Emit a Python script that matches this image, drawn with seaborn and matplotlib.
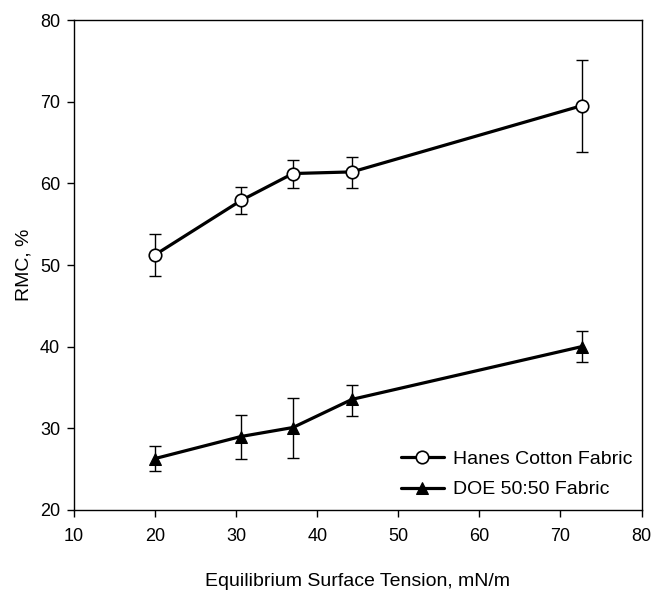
import matplotlib
matplotlib.use("Agg")
import matplotlib.pyplot as plt
import seaborn as sns
import pandas as pd
import numpy as np

tension = [20.0, 30.6, 37.0, 44.3, 72.6]
hanes = [51.25, 57.9, 61.2, 61.4, 69.5]
hanes_lo = [48.7, 56.3, 59.4, 59.4, 63.8]
hanes_hi = [53.8, 59.5, 62.9, 63.2, 75.1]
doe = [26.3, 29.0, 30.1, 33.55, 40.0]
doe_lo = [24.8, 26.3, 26.4, 31.5, 38.1]
doe_hi = [27.8, 31.6, 33.7, 35.3, 41.9]
series_names = ["Hanes Cotton Fabric", "DOE 50:50 Fabric"]
xticks = [10, 20, 30, 40, 50, 60, 70, 80]
yticks = [20, 30, 40, 50, 60, 70, 80]

sns.set_style("ticks")
plt.rcParams["font.family"] = ["Liberation Sans", "DejaVu Sans"]
plt.rcParams["text.color"] = "black"
plt.rcParams["axes.labelcolor"] = "black"

df = pd.DataFrame({
    "x": tension + tension,
    "y": hanes + doe,
    "series": [series_names[0]] * len(tension) + [series_names[1]] * len(tension),
})

fig = plt.figure(figsize=(6.56, 5.92), dpi=100)
ax = fig.add_axes([74 / 656, 1 - 510 / 592, (641.5 - 74) / 656, (510 - 20) / 592])

for vals, lo, hi in [(hanes, hanes_lo, hanes_hi), (doe, doe_lo, doe_hi)]:
    v = np.array(vals)
    yerr = [v - np.array(lo), np.array(hi) - v]
    ax.errorbar(tension, vals, yerr=yerr, fmt="none", ecolor="black",
                elinewidth=1.0, capsize=4.3, capthick=1.0, zorder=2)

sns.lineplot(data=df, x="x", y="y", hue="series", style="series",
             palette=["black", "black"], markers=["o", "^"], dashes=False,
             linewidth=2.3, markersize=9, ax=ax, zorder=3)

for ln in ax.get_lines():
    if ln.get_marker() == "o":
        ln.set_markerfacecolor("white")
        ln.set_markeredgecolor("black")
        ln.set_markeredgewidth(1.2)
    elif ln.get_marker() == "^":
        ln.set_markerfacecolor("black")
        ln.set_markeredgecolor("black")

handles, labels = ax.get_legend_handles_labels()
for h in handles:
    if h.get_marker() == "o":
        h.set_markerfacecolor("white")
        h.set_markeredgecolor("black")
        h.set_markeredgewidth(1.2)
    h.set_color("black")
    h.set_markersize(9)
ax.legend(handles, labels, loc="lower right", frameon=False, fontsize=14,
          handlelength=2.2, handletextpad=0.5, labelspacing=0.65,
          borderaxespad=0.2, bbox_to_anchor=(1.005, 0.0))

ax.set_xlim(10, 80)
ax.set_ylim(20, 80)
ax.set_xticks(xticks)
ax.set_yticks(yticks)
ax.tick_params(axis="both", direction="out", length=5, width=1, labelsize=13,
               colors="black")
ax.tick_params(axis="x", pad=8)
ax.tick_params(axis="y", pad=5)
for s in ax.spines.values():
    s.set_visible(True)
    s.set_color("black")
    s.set_linewidth(1)

ax.set_xlabel("Equilibrium Surface Tension, mN/m", fontsize=14, labelpad=20)
ax.set_ylabel("RMC, %", fontsize=14, labelpad=5)

fig.savefig("out.png", dpi=100)
